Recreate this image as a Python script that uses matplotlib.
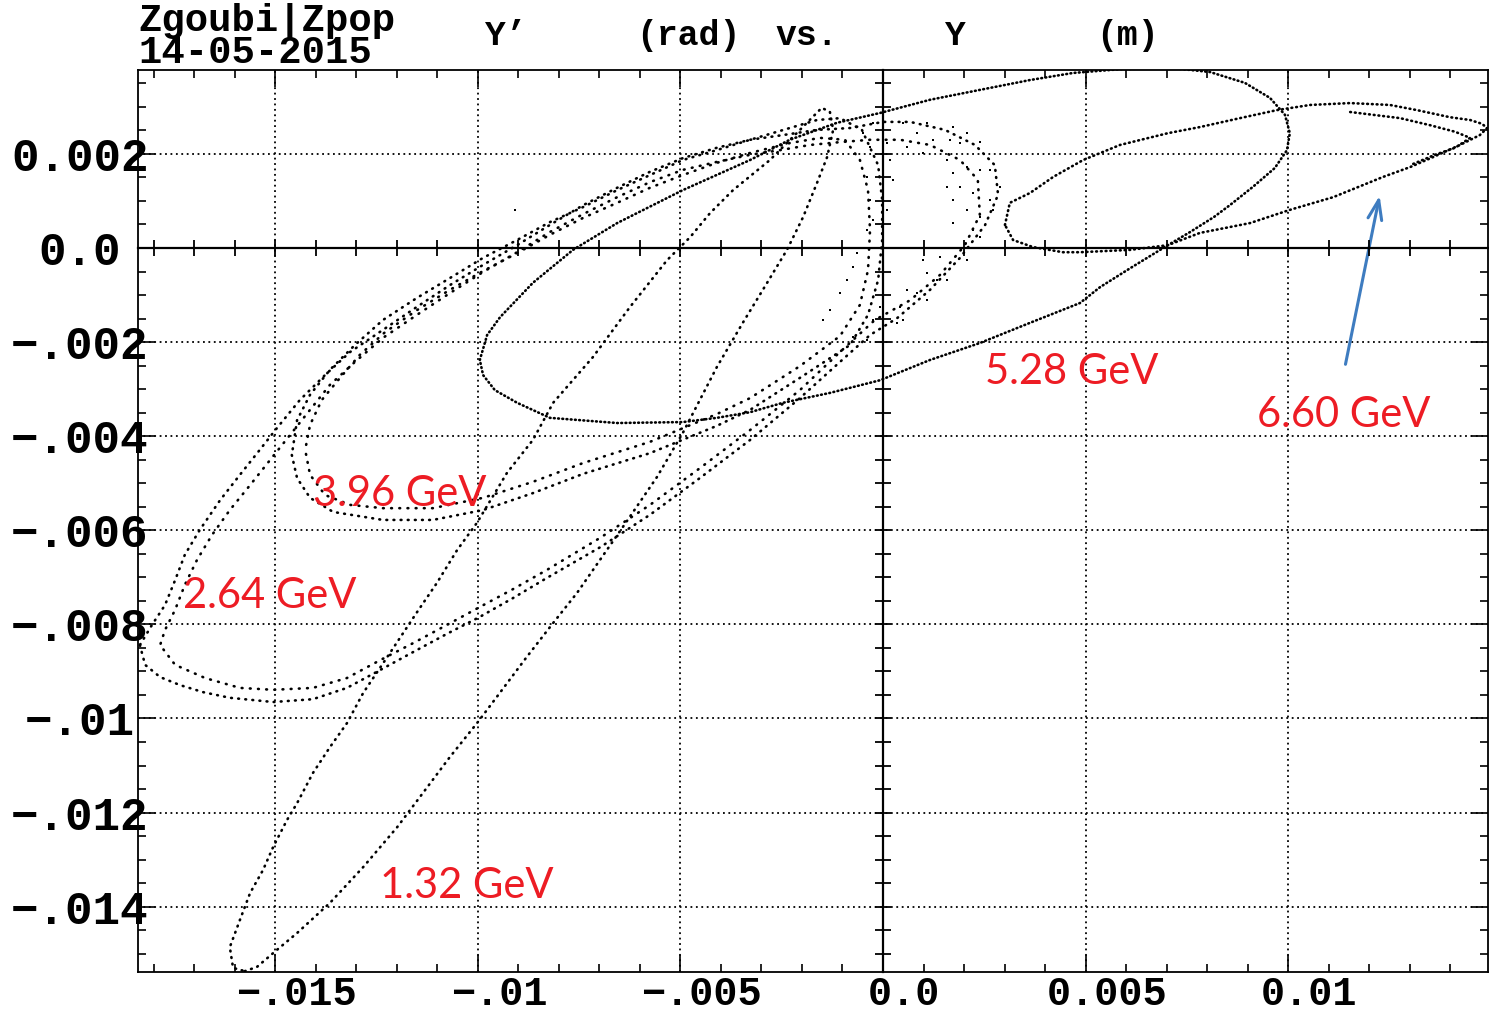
import matplotlib.pyplot as plt
from matplotlib.ticker import MultipleLocator, FixedLocator
from matplotlib.transforms import ScaledTranslation

# Y (m) and Y' (rad), one loop per energy

# 1.32 GeV - long thin ellipse
y_132 = [-0.01575, -0.01545, -0.01496, -0.01446, -0.01365, -0.01283, -0.01199, -0.01143,
         -0.01069, -0.01002, -0.00953, -0.00879, -0.00814, -0.00755, -0.00642, -0.00558,
         -0.00494, -0.00452, -0.00410, -0.00346, -0.00286, -0.00237, -0.00197, -0.00163,
         -0.00138, -0.00123, -0.00131, -0.00151, -0.00205, -0.00279, -0.00370, -0.00427,
         -0.00476, -0.00533, -0.00624, -0.00716, -0.00814, -0.00864, -0.00928, -0.01002,
         -0.01051, -0.01101, -0.01150, -0.01217, -0.01283, -0.01323, -0.01365, -0.01407,
         -0.01446, -0.01471, -0.01505, -0.01530, -0.01562, -0.01587, -0.01612, -0.01604,
         -0.01575]
yp_132 = [-0.01537, -0.01528, -0.01492, -0.01456, -0.01392, -0.01316, -0.01231, -0.01167,
          -0.01082, -0.01010, -0.00954, -0.00869, -0.00797, -0.00733, -0.00593, -0.00487,
          -0.00393, -0.00323, -0.00253, -0.00159, -0.00074, -0.00004, 0.00066, 0.00138,
          0.00193, 0.00251, 0.00289, 0.00298, 0.00251, 0.00187, 0.00123, 0.00074,
          0.00023, -0.00026, -0.00125, -0.00232, -0.00329, -0.00408, -0.00478, -0.00584,
          -0.00642, -0.00712, -0.00774, -0.00861, -0.00946, -0.01010, -0.01061, -0.01116,
          -0.01180, -0.01216, -0.01273, -0.01322, -0.01371, -0.01428, -0.01486, -0.01530,
          -0.01537]

# 2.64 GeV - wide scattered band, outer and inner edge
y_264_out = [-0.01834, -0.01821, -0.01784, -0.01735, -0.01678, -0.01612, -0.01505, -0.01407,
             -0.01323, -0.01241, -0.01160, -0.01076, -0.00995, -0.00913, -0.00829, -0.00698,
             -0.00575, -0.00452, -0.00328, -0.00205, -0.00106, -0.00032, 0.00035, 0.00116,
             0.00190, 0.00252, 0.00284, 0.00276, 0.00227, 0.00153, 0.00067, 0.0,
             -0.00081, -0.00163, -0.00247, -0.00328, -0.00410, -0.00494, -0.00575, -0.00656,
             -0.00740, -0.00822, -0.00903, -0.00987, -0.01069, -0.01150, -0.01234, -0.01315,
             -0.01377, -0.01439, -0.01496, -0.01538, -0.01587, -0.01636, -0.01686, -0.01723,
             -0.01747, -0.01772, -0.01804, -0.01834]
yp_264_out = [-0.00844, -0.00886, -0.00912, -0.00929, -0.00944, -0.00956, -0.00965, -0.00959,
              -0.00935, -0.00897, -0.00859, -0.00820, -0.00784, -0.00744, -0.00701, -0.00636,
              -0.00567, -0.00489, -0.00408, -0.00319, -0.00242, -0.00185, -0.00149, -0.00089,
              -0.00021, 0.00049, 0.00113, 0.00176, 0.00219, 0.00251, 0.00268, 0.00268,
              0.00255, 0.00251, 0.00240, 0.00230, 0.00213, 0.00191, 0.00162, 0.00128,
              0.00091, 0.00049, 0.00006, -0.00036, -0.00079, -0.00125, -0.00174, -0.00221,
              -0.00270, -0.00323, -0.00383, -0.00429, -0.00482, -0.00536, -0.00599, -0.00652,
              -0.00706, -0.00759, -0.00801, -0.00844]
y_264_in = [-0.01784, -0.01747, -0.01673, -0.01587, -0.01505, -0.01407, -0.01323, -0.01241,
            -0.01160, -0.01076, -0.00995, -0.00913, -0.00829, -0.00698, -0.00575, -0.00452,
            -0.00328, -0.00205, -0.00106, -0.00020, 0.00067, 0.00141, 0.00202, 0.00239,
            0.00234, 0.00190, 0.00116, 0.00042, -0.00032, -0.00106, -0.00180, -0.00254,
            -0.00328, -0.00410, -0.00494, -0.00575, -0.00656, -0.00740, -0.00822, -0.00903,
            -0.00987, -0.01069, -0.01150, -0.01234, -0.01303, -0.01365, -0.01414, -0.01463,
            -0.01513, -0.01562, -0.01612, -0.01656, -0.01693, -0.01723, -0.01747, -0.01772,
            -0.01784]
yp_264_in = [-0.00844, -0.00886, -0.00914, -0.00935, -0.00939, -0.00935, -0.00914, -0.00876,
             -0.00840, -0.00801, -0.00763, -0.00725, -0.00684, -0.00616, -0.00546, -0.00468,
             -0.00387, -0.00302, -0.00221, -0.00153, -0.00111, -0.00057, 0.00006, 0.00070,
             0.00145, 0.00187, 0.00219, 0.00230, 0.00230, 0.00225, 0.00219, 0.00208,
             0.00198, 0.00183, 0.00166, 0.00140, 0.00108, 0.00072, 0.00034, -0.00009,
             -0.00051, -0.00096, -0.00142, -0.00191, -0.00242, -0.00291, -0.00344, -0.00397,
             -0.00451, -0.00504, -0.00557, -0.00610, -0.00663, -0.00716, -0.00769, -0.00812,
             -0.00844]

# 3.96 GeV - scattered band with a hook at its left end
y_396_out = [-0.01459, -0.01446, -0.01414, -0.01357, -0.01234, -0.01111, -0.00987, -0.00864,
             -0.00740, -0.00575, -0.00410, -0.00328, -0.00205, -0.00081, -0.00037, -0.00012,
             -0.00002, -0.00002, -0.00012, -0.00052, -0.00106, -0.00163, -0.00230, -0.00328,
             -0.00410, -0.00494, -0.00575, -0.00656, -0.00740, -0.00822, -0.00903, -0.00987,
             -0.01069, -0.01150, -0.01234, -0.01303, -0.01365, -0.01414, -0.01446, -0.01459]
yp_396_out = [-0.00440, -0.00489, -0.00531, -0.00561, -0.00578, -0.00578, -0.00557, -0.00521,
              -0.00480, -0.00436, -0.00378, -0.00344, -0.00276, -0.00206, -0.00142, -0.00068,
              0.00017, 0.00102, 0.00176, 0.00251, 0.00276, 0.00272, 0.00255, 0.00230,
              0.00208, 0.00187, 0.00155, 0.00123, 0.00087, 0.00055, 0.00017, -0.00021,
              -0.00064, -0.00106, -0.00153, -0.00206, -0.00259, -0.00312, -0.00366, -0.00440]
y_396_in = [-0.01426, -0.01414, -0.01377, -0.01315, -0.01234, -0.01111, -0.00987, -0.00864,
            -0.00740, -0.00575, -0.00410, -0.00328, -0.00205, -0.00106, -0.00057, -0.00037,
            -0.00032, -0.00037, -0.00057, -0.00094, -0.00155, -0.00230, -0.00328, -0.00410,
            -0.00494, -0.00575, -0.00656, -0.00740, -0.00822, -0.00903, -0.00987, -0.01069,
            -0.01150, -0.01229, -0.01291, -0.01340, -0.01385, -0.01414, -0.01426]
yp_396_in = [-0.00429, -0.00482, -0.00525, -0.00546, -0.00553, -0.00553, -0.00531, -0.00497,
             -0.00457, -0.00412, -0.00353, -0.00319, -0.00251, -0.00187, -0.00121, -0.00047,
             0.00038, 0.00123, 0.00187, 0.00230, 0.00234, 0.00223, 0.00202, 0.00181,
             0.00155, 0.00128, 0.00096, 0.00064, 0.00028, -0.00011, -0.00049, -0.00089,
             -0.00132, -0.00179, -0.00227, -0.00276, -0.00323, -0.00376, -0.00429]

# 5.28 GeV - clean tilted ellipse
y_528 = [-0.00995, -0.00977, -0.00945, -0.00864, -0.00765, -0.00656, -0.00494, -0.00328,
         -0.00230, -0.00114, -0.00007, 0.00116, 0.00239, 0.00363, 0.00469, 0.00585,
         0.00708, 0.00807, 0.00893, 0.00955, 0.00992, 0.01004, 0.00997, 0.00967,
         0.00913, 0.00856, 0.00817, 0.00758, 0.00703, 0.00610, 0.00536, 0.00486,
         0.00363, 0.00239, 0.00116, -0.00007, -0.00131, -0.00247, -0.00328, -0.00410,
         -0.00494, -0.00656, -0.00822, -0.00903, -0.00958, -0.00987, -0.00995]
yp_528 = [-0.00238, -0.00185, -0.00147, -0.00074, -0.00004, 0.00053, 0.00123, 0.00187,
          0.00230, 0.00266, 0.00287, 0.00315, 0.00336, 0.00357, 0.00372, 0.00380,
          0.00383, 0.00374, 0.00351, 0.00319, 0.00283, 0.00244, 0.00208, 0.00170,
          0.00130, 0.00091, 0.00066, 0.00034, 0.00006, -0.00043, -0.00083, -0.00117,
          -0.00159, -0.00202, -0.00238, -0.00281, -0.00308, -0.00329, -0.00349, -0.00361,
          -0.00370, -0.00372, -0.00361, -0.00329, -0.00302, -0.00270, -0.00238]

# 6.60 GeV - right-hand ellipse, thick near its right end
y_660 = [0.00301, 0.00313, 0.00363, 0.00420, 0.00494, 0.00585, 0.00703, 0.00782,
         0.00881, 0.00972, 0.01054, 0.01153, 0.01251, 0.01318, 0.01399, 0.01449,
         0.01478, 0.01491, 0.01473, 0.01424, 0.01357, 0.01301, 0.01234, 0.01111,
         0.01004, 0.00906, 0.00782, 0.00703, 0.00610, 0.00486, 0.00444, 0.00370,
         0.00321, 0.00301]
yp_660 = [0.00049, 0.00096, 0.00117, 0.00151, 0.00187, 0.00219, 0.00244, 0.00257,
          0.00276, 0.00293, 0.00304, 0.00308, 0.00304, 0.00293, 0.00278, 0.00272,
          0.00264, 0.00255, 0.00240, 0.00219, 0.00193, 0.00172, 0.00151, 0.00108,
          0.00081, 0.00053, 0.00032, 0.00006, -0.00004, -0.00009, -0.00009, 0.00002,
          0.00017, 0.00049]
y_660_in = [0.01153, 0.01276, 0.01350, 0.01412, 0.01449, 0.01412, 0.01362, 0.01301]
yp_660_in = [0.00289, 0.00276, 0.00261, 0.00247, 0.00234, 0.00213, 0.00198, 0.00176]

# loose particles around the origin
y_halo = [0.00049, 0.00109, 0.00173, 0.00207, 0.00084, 0.00123, 0.00165, 0.00190,
          0.00239, 0.00059, 0.00099, 0.00158, 0.00207, 0.00173, 0.00239, 0.00264,
          0.00190, 0.00222, 0.00158, 0.00173, 0.00207, 0.00239, 0.00264, 0.00173,
          0.00222, 0.00239, 0.00271, 0.00289, 0.00017, 0.00025, -0.00039, -0.00032,
          -0.00025, -0.00039, 0.00010, 0.00010, -0.00032, -0.00049, -0.00025,
          0.00099, 0.00141, 0.00207, 0.00109, 0.00133, 0.00158, 0.00084, 0.00109,
          0.00059, 0.00042, 0.00035, 0.00049, -0.00064, -0.00074, -0.00089, -0.00106,
          -0.00131, -0.00148, -0.00039, -0.00074, -0.00025, -0.00007, -0.00908]
yp_halo = [0.00266, 0.00266, 0.00257, 0.00244, 0.00244, 0.00230, 0.00230, 0.00223,
           0.00225, 0.00215, 0.00202, 0.00187, 0.00172, 0.00159, 0.00166, 0.00166,
           0.00130, 0.00117, 0.00130, 0.00102, 0.00081, 0.00066, 0.00102, 0.00053,
           0.00038, 0.00023, 0.00081, 0.00130, 0.00187, 0.00145, 0.00151, 0.00102,
           0.00060, 0.00038, 0.00081, 0.00223, 0.00215, 0.00244, 0.00266,
           -0.00026, -0.00019, -0.00026, -0.00053, -0.00068, -0.00068, -0.00096, -0.00111,
           -0.00089, -0.00125, -0.00159, -0.00153, -0.00011, -0.00040, -0.00068, -0.00096,
           -0.00132, -0.00153, -0.00196, -0.00189, -0.00153, -0.00125, 0.00081]

energy_labels = ['1.32 GeV', '2.64 GeV', '3.96 GeV', '5.28 GeV', '6.60 GeV']
label_x = [-0.01241, -0.01728, -0.01407, 0.00252, 0.00923]
label_y = [-0.01381, -0.00765, -0.00548, -0.00289, -0.00380]

xticks = [-0.015, -0.01, -0.005, 0.0, 0.005, 0.01]
xticklabels = ['\u2212.015', '\u2212.01', '\u2212.005', '0.0', '0.005', '0.01']
yticks = [-0.014, -0.012, -0.01, -0.008, -0.006, -0.004, -0.002, 0.0, 0.002]
yticklabels = ['\u2212.014', '\u2212.012', '\u2212.01', '\u2212.008', '\u2212.006',
               '\u2212.004', '\u2212.002', '0.0', '0.002']

xlim = (-0.018386, 0.014931)
ylim = (-0.015388, 0.003783)

mono = ['Liberation Mono', 'DejaVu Sans Mono']

fig = plt.figure(figsize=(14.89, 10.21), dpi=100)
pos = [138 / 1489, 49 / 1021, 1350 / 1489, 902 / 1021]
ax = fig.add_axes(pos)

# the particle loops, drawn as chains of dots
dots = dict(color='k', lw=1.9, dash_capstyle='round')
ax.plot(y_132, yp_132, ls=(0, (0.3, 2.2)), **dots)
ax.plot(y_264_out, yp_264_out, ls=(0, (0.3, 2.4)), **dots)
ax.plot(y_264_in, yp_264_in, ls=(1, (0.3, 2.8)), **dots)
ax.plot(y_396_out, yp_396_out, ls=(0, (0.3, 2.4)), **dots)
ax.plot(y_396_in, yp_396_in, ls=(1.5, (0.3, 2.8)), **dots)
ax.plot(y_528, yp_528, ls=(0, (0.3, 1.3)), **dots)
ax.plot(y_660, yp_660, ls=(0, (0.3, 1.5)), **dots)
ax.plot(y_660_in, yp_660_in, ls=(0, (0.3, 1.5)), **dots)
ax.scatter(y_halo, yp_halo, s=3, color='k', marker='s', lw=0)

ax.set_xlim(*xlim)
ax.set_ylim(*ylim)

# frame: ticks pointing in on all four sides, dotted grid
ax.xaxis.set_major_locator(FixedLocator(xticks))
ax.yaxis.set_major_locator(FixedLocator(yticks))
ax.xaxis.set_minor_locator(MultipleLocator(0.001))
ax.yaxis.set_minor_locator(MultipleLocator(0.0005))
ax.set_xticklabels(xticklabels, family=mono, weight='bold', fontsize=29)
ax.set_yticklabels(yticklabels, family=mono, weight='bold', fontsize=33, ha='center')
ax.tick_params(which='both', direction='in', top=True, right=True, width=1.2, color='k')
ax.tick_params(which='major', length=12)
ax.tick_params(which='minor', length=5.5)
ax.tick_params(axis='x', pad=2)
ax.tick_params(axis='y', pad=42)
for sp in ax.spines.values():
    sp.set_linewidth(1.3)
ax.grid(True, which='major', color='k', lw=1.3, ls=(0, (1, 2)))
ax.set_axisbelow(False)

shift = ScaledTranslation(0.21, 0, fig.dpi_scale_trans)
for lab in ax.get_xticklabels():
    lab.set_transform(lab.get_transform() + shift)

# axes through the origin with cross ticks
ax0 = fig.add_axes(pos, facecolor='none')
ax0.set_xlim(*xlim)
ax0.set_ylim(*ylim)
ax0.spines['left'].set_position(('data', 0))
ax0.spines['bottom'].set_position(('data', 0))
ax0.spines['top'].set_visible(False)
ax0.spines['right'].set_visible(False)
ax0.spines['left'].set_linewidth(1.6)
ax0.spines['bottom'].set_linewidth(1.6)
ax0.xaxis.set_major_locator(MultipleLocator(0.001))
ax0.yaxis.set_major_locator(MultipleLocator(0.0005))
ax0.tick_params(which='both', direction='inout', length=11, width=1.3,
                labelbottom=False, labelleft=False)

# energy labels and the arrow to the 6.60 GeV loop
for txt, lx, ly in zip(energy_labels, label_x, label_y):
    ax.text(lx, ly, txt, color='#ED1C24', fontsize=30, family='Lato', va='baseline', ha='left')
ax.annotate('', xy=(0.01227, 0.00117), xytext=(0.01140, -0.00253),
            arrowprops=dict(arrowstyle='->,head_length=1.4,head_width=0.5',
                            color='#3E7CC0', lw=2.2))

# header: program/date block and the axis description
fig.text(138 / 1489, 1 - 63 / 1021, 'Zgoubi|Zpop\n14-05-2015', family=mono, weight='bold',
         fontsize=28, va='baseline', ha='left', linespacing=0.82)
for txt, hx in zip(['Y\u2019', '(rad)', 'vs.', 'Y', '(m)'], [485, 636, 775, 945, 1096]):
    fig.text(hx / 1489, 1 - 45 / 1021, txt, family=mono, weight='bold',
             fontsize=25, va='baseline', ha='left')

plt.savefig('out.png', dpi=100)
